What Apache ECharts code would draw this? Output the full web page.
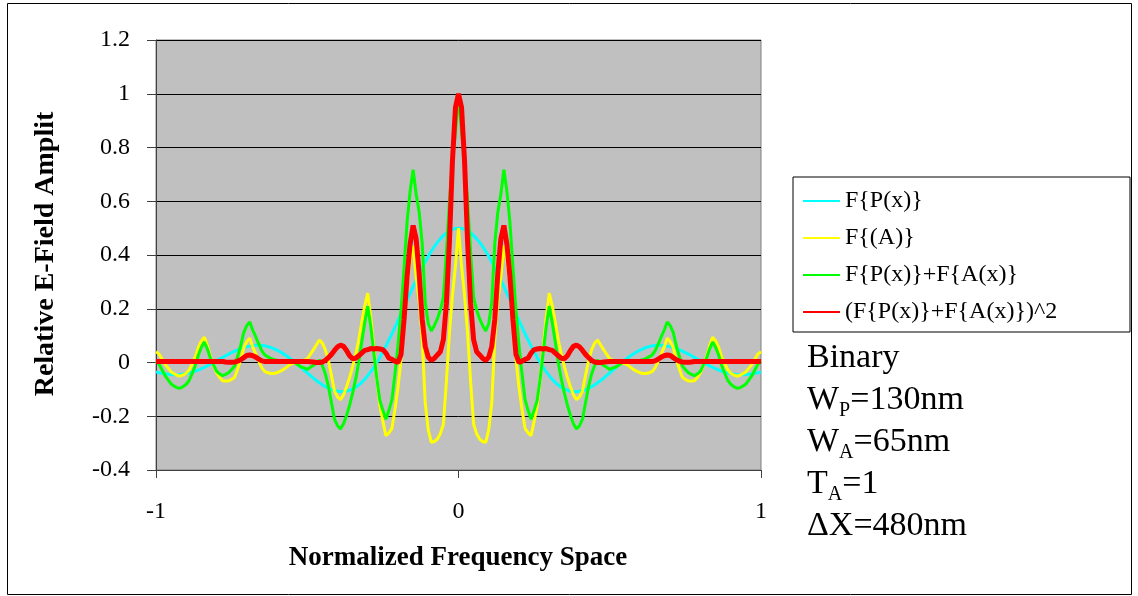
<!DOCTYPE html>
<html>
<head>
<meta charset="utf-8">
<script src="https://cdn.jsdelivr.net/npm/echarts@6/dist/echarts.min.js"></script>
<style>
html, body { margin: 0; padding: 0; background: #fff; }
#chart { width: 1138px; height: 596px; }
</style>
</head>
<body>
<div id="chart"></div>
<script>
// normalized frequency, -1 .. 1
var freq = [
  -1.00,-0.99,-0.98,-0.97,-0.96,-0.95,-0.94,-0.93,-0.92,-0.91,
  -0.90,-0.89,-0.88,-0.87,-0.86,-0.85,-0.84,-0.83,-0.82,-0.81,
  -0.80,-0.79,-0.78,-0.77,-0.76,-0.75,-0.74,-0.73,-0.72,-0.71,
  -0.70,-0.69,-0.68,-0.67,-0.66,-0.65,-0.64,-0.63,-0.62,-0.61,
  -0.60,-0.59,-0.58,-0.57,-0.56,-0.55,-0.54,-0.53,-0.52,-0.51,
  -0.50,-0.49,-0.48,-0.47,-0.46,-0.45,-0.44,-0.43,-0.42,-0.41,
  -0.40,-0.39,-0.38,-0.37,-0.36,-0.35,-0.34,-0.33,-0.32,-0.31,
  -0.30,-0.29,-0.28,-0.27,-0.26,-0.25,-0.24,-0.23,-0.22,-0.21,
  -0.20,-0.19,-0.18,-0.17,-0.16,-0.15,-0.14,-0.13,-0.12,-0.11,
  -0.10,-0.09,-0.08,-0.07,-0.06,-0.05,-0.04,-0.03,-0.02,-0.01,
  0.00,
  0.01,0.02,0.03,0.04,0.05,0.06,0.07,0.08,0.09,0.10,
  0.11,0.12,0.13,0.14,0.15,0.16,0.17,0.18,0.19,0.20,
  0.21,0.22,0.23,0.24,0.25,0.26,0.27,0.28,0.29,0.30,
  0.31,0.32,0.33,0.34,0.35,0.36,0.37,0.38,0.39,0.40,
  0.41,0.42,0.43,0.44,0.45,0.46,0.47,0.48,0.49,0.50,
  0.51,0.52,0.53,0.54,0.55,0.56,0.57,0.58,0.59,0.60,
  0.61,0.62,0.63,0.64,0.65,0.66,0.67,0.68,0.69,0.70,
  0.71,0.72,0.73,0.74,0.75,0.76,0.77,0.78,0.79,0.80,
  0.81,0.82,0.83,0.84,0.85,0.86,0.87,0.88,0.89,0.90,
  0.91,0.92,0.93,0.94,0.95,0.96,0.97,0.98,0.99,1.00
];

// F{P(x)}
var fP = [
  -0.035,-0.038,-0.040,-0.042,-0.044,-0.045,-0.046,-0.046,-0.045,-0.043,
  -0.041,-0.039,-0.036,-0.032,-0.028,-0.023,-0.018,-0.012,-0.006,0.000,
  0.006,0.013,0.019,0.025,0.031,0.037,0.042,0.047,0.052,0.056,
  0.059,0.061,0.063,0.064,0.064,0.063,0.062,0.059,0.056,0.051,
  0.046,0.040,0.033,0.026,0.018,0.009,0.000,-0.009,-0.019,-0.029,
  -0.039,-0.048,-0.058,-0.067,-0.075,-0.083,-0.090,-0.096,-0.101,-0.105,
  -0.107,-0.109,-0.108,-0.107,-0.103,-0.099,-0.092,-0.084,-0.074,-0.062,
  -0.049,-0.034,-0.018,0.000,0.019,0.040,0.061,0.084,0.107,0.132,
  0.156,0.181,0.207,0.232,0.257,0.282,0.306,0.330,0.353,0.374,
  0.395,0.414,0.431,0.447,0.460,0.472,0.482,0.490,0.496,0.499,
  0.500,
  0.499,0.496,0.490,0.482,0.472,0.460,0.447,0.431,0.414,0.395,
  0.374,0.353,0.330,0.306,0.282,0.257,0.232,0.207,0.181,0.156,
  0.132,0.107,0.084,0.061,0.040,0.019,0.000,-0.018,-0.034,-0.049,
  -0.062,-0.074,-0.084,-0.092,-0.099,-0.103,-0.107,-0.108,-0.109,-0.107,
  -0.105,-0.101,-0.096,-0.090,-0.083,-0.075,-0.067,-0.058,-0.048,-0.039,
  -0.029,-0.019,-0.009,0.000,0.009,0.018,0.026,0.033,0.040,0.046,
  0.051,0.056,0.059,0.062,0.063,0.064,0.064,0.063,0.061,0.059,
  0.056,0.052,0.047,0.042,0.037,0.031,0.025,0.019,0.013,0.006,
  0.000,-0.006,-0.012,-0.018,-0.023,-0.028,-0.032,-0.036,-0.039,-0.041,
  -0.043,-0.045,-0.046,-0.046,-0.045,-0.044,-0.042,-0.040,-0.038,-0.035
];

// F{(A)}
var fA = [
  0.04,0.032,0.013,-0.007,-0.021,-0.035,-0.042,-0.048,-0.051,-0.046,
  -0.04,-0.027,-0.004,0.021,0.056,0.08,0.094,0.062,0.022,-0.008,
  -0.038,-0.055,-0.068,-0.069,-0.069,-0.063,-0.055,-0.024,0.011,0.055,
  0.078,0.09,0.057,0.031,0.004,-0.02,-0.034,-0.038,-0.041,-0.041,
  -0.038,-0.033,-0.027,-0.019,-0.01,-0.004,-0.002,0.0,0.002,0.009,
  0.013,0.03,0.047,0.065,0.084,0.072,0.047,0.007,-0.048,-0.106,
  -0.128,-0.138,-0.12,-0.09,-0.056,-0.015,0.03,0.083,0.149,0.21,
  0.258,0.169,0.056,-0.06,-0.16,-0.218,-0.272,-0.262,-0.245,-0.174,
  -0.092,0.012,0.145,0.29,0.38,0.435,0.32,0.23,0.09,-0.15,
  -0.25,-0.297,-0.294,-0.285,-0.265,-0.23,-0.07,0.11,0.25,0.36,
  0.50,
  0.36,0.25,0.11,-0.07,-0.23,-0.265,-0.285,-0.294,-0.297,-0.25,
  -0.15,0.09,0.23,0.32,0.435,0.38,0.29,0.145,0.012,-0.092,
  -0.174,-0.245,-0.262,-0.272,-0.218,-0.16,-0.06,0.056,0.169,0.258,
  0.21,0.149,0.083,0.03,-0.015,-0.056,-0.09,-0.12,-0.138,-0.128,
  -0.106,-0.048,0.007,0.047,0.072,0.084,0.065,0.047,0.03,0.013,
  0.009,0.002,0.0,-0.002,-0.004,-0.01,-0.019,-0.027,-0.033,-0.038,
  -0.041,-0.041,-0.038,-0.034,-0.02,0.004,0.031,0.057,0.09,0.078,
  0.055,0.011,-0.024,-0.055,-0.063,-0.069,-0.069,-0.068,-0.055,-0.038,
  -0.008,0.022,0.062,0.094,0.08,0.056,0.021,-0.004,-0.027,-0.04,
  -0.046,-0.051,-0.048,-0.042,-0.035,-0.021,-0.007,0.013,0.032,0.04
];

// F{P(x)}+F{A(x)}
var fSum = [
  0.005,-0.006,-0.027,-0.049,-0.065,-0.080,-0.088,-0.094,-0.096,-0.089,
  -0.081,-0.066,-0.040,-0.011,0.028,0.057,0.076,0.050,0.016,-0.008,
  -0.032,-0.042,-0.049,-0.044,-0.038,-0.026,-0.013,0.023,0.063,0.111,
  0.137,0.151,0.120,0.095,0.068,0.043,0.028,0.021,0.015,0.010,
  0.008,0.007,0.006,0.007,0.008,0.005,-0.002,-0.009,-0.017,-0.020,
  -0.026,-0.018,-0.011,-0.002,0.009,-0.011,-0.043,-0.089,-0.149,-0.211,
  -0.235,-0.247,-0.228,-0.197,-0.159,-0.114,-0.062,-0.001,0.075,0.148,
  0.209,0.135,0.038,-0.060,-0.141,-0.178,-0.211,-0.178,-0.138,-0.042,
  0.064,0.193,0.352,0.522,0.637,0.717,0.626,0.560,0.443,0.224,
  0.145,0.117,0.137,0.162,0.195,0.242,0.412,0.600,0.746,0.859,
  1.000,
  0.859,0.746,0.600,0.412,0.242,0.195,0.162,0.137,0.117,0.145,
  0.224,0.443,0.560,0.626,0.717,0.637,0.522,0.352,0.193,0.064,
  -0.042,-0.138,-0.178,-0.211,-0.178,-0.141,-0.060,0.038,0.135,0.209,
  0.148,0.075,-0.001,-0.062,-0.114,-0.159,-0.197,-0.228,-0.247,-0.235,
  -0.211,-0.149,-0.089,-0.043,-0.011,0.009,-0.002,-0.011,-0.018,-0.026,
  -0.020,-0.017,-0.009,-0.002,0.005,0.008,0.007,0.006,0.007,0.008,
  0.010,0.015,0.021,0.028,0.043,0.068,0.095,0.120,0.151,0.137,
  0.111,0.063,0.023,-0.013,-0.026,-0.038,-0.044,-0.049,-0.042,-0.032,
  -0.008,0.016,0.050,0.076,0.057,0.028,-0.011,-0.040,-0.066,-0.081,
  -0.089,-0.096,-0.094,-0.088,-0.080,-0.065,-0.049,-0.027,-0.006,0.005
];

// (F{P(x)}+F{A(x)})^2
var fSq = [
  0.004,0.004,0.004,0.004,0.004,0.004,0.004,0.004,0.004,0.004,
  0.004,0.004,0.004,0.004,0.004,0.004,0.004,0.004,0.004,0.004,
  0.004,0.004,0.004,0.002,0.001,0.001,0.002,0.005,0.01,0.018,
  0.026,0.028,0.025,0.02,0.012,0.006,0.004,0.004,0.004,0.004,
  0.004,0.004,0.004,0.004,0.004,0.004,0.004,0.004,0.004,0.004,
  0.004,0.003,0.002,0.0,0.0,0.002,0.008,0.018,0.03,0.045,
  0.058,0.065,0.06,0.045,0.025,0.014,0.016,0.025,0.035,0.045,
  0.048,0.052,0.05,0.052,0.05,0.048,0.035,0.016,0.012,0.005,
  0.0,0.03,0.16,0.32,0.44,0.51,0.46,0.33,0.16,0.06,
  0.02,0.008,0.015,0.028,0.04,0.085,0.22,0.45,0.75,0.95,
  1.0,
  0.95,0.75,0.45,0.22,0.085,0.04,0.028,0.015,0.008,0.02,
  0.06,0.16,0.33,0.46,0.51,0.44,0.32,0.16,0.03,0.0,
  0.005,0.012,0.016,0.035,0.048,0.05,0.052,0.05,0.052,0.048,
  0.045,0.035,0.025,0.016,0.014,0.025,0.045,0.06,0.065,0.058,
  0.045,0.03,0.018,0.008,0.002,0.0,0.0,0.002,0.003,0.004,
  0.004,0.004,0.004,0.004,0.004,0.004,0.004,0.004,0.004,0.004,
  0.004,0.004,0.004,0.004,0.006,0.012,0.02,0.025,0.028,0.026,
  0.018,0.01,0.005,0.002,0.001,0.001,0.002,0.004,0.004,0.004,
  0.004,0.004,0.004,0.004,0.004,0.004,0.004,0.004,0.004,0.004,
  0.004,0.004,0.004,0.004,0.004,0.004,0.004,0.004,0.004,0.004
];

var names = ['F{P(x)}', 'F{(A)}', 'F{P(x)}+F{A(x)}', '(F{P(x)}+F{A(x)})^2'];
var colors = ['#00ffff', '#ffff00', '#00ff00', '#ff0000'];
var widths = [3, 3, 3, 5];
var values = [fP, fA, fSum, fSq];

var serif = 'Liberation Serif';

function pairs(ys) {
  return freq.map(function (x, i) { return [x, ys[i]]; });
}

var chart = echarts.init(document.getElementById('chart'));

var option = {
  animation: false,
  backgroundColor: '#fff',
  grid: {
    left: 156, right: 377, top: 40, bottom: 126,
    outerBoundsMode: 'none',
    show: true,
    backgroundColor: '#c0c0c0',
    borderColor: '#808080',
    borderWidth: 1
  },
  xAxis: {
    type: 'value',
    min: -1, max: 1, interval: 1,
    axisLine: { show: true, onZero: false, lineStyle: { color: '#404040', width: 1 } },
    axisTick: { show: true, inside: false, length: 8, lineStyle: { color: '#404040' } },
    axisLabel: { margin: 30, fontFamily: serif, fontSize: 24, color: '#000' },
    splitLine: { show: false }
  },
  yAxis: {
    type: 'value',
    min: -0.4, max: 1.2, interval: 0.2,
    axisLine: { show: true, onZero: false, lineStyle: { color: '#404040', width: 1 } },
    axisTick: { show: true, inside: false, length: 9, lineStyle: { color: '#404040' } },
    axisLabel: { margin: 26, fontFamily: serif, fontSize: 24, color: '#000' },
    splitLine: { show: true, lineStyle: { color: '#000', width: 1 } }
  },
  legend: {
    orient: 'vertical',
    left: 793, top: 177,
    padding: [9, 6, 5, 9],
    itemGap: 7,
    itemWidth: 37,
    itemHeight: 10,
    itemStyle: { opacity: 0 },
    backgroundColor: '#fff',
    borderColor: '#000',
    borderWidth: 1,
    borderRadius: 0,
    textStyle: { fontFamily: serif, fontSize: 24, color: '#000', lineHeight: 30, width: 279 },
    data: names
  },
  graphic: [
    {
      type: 'rect', silent: true,
      shape: { x: 7.5, y: 3.5, width: 1124, height: 591 },
      style: { fill: 'none', stroke: '#000', lineWidth: 1 }
    },
    {
      type: 'text', silent: true,
      x: 46, y: 254, rotation: Math.PI / 2,
      style: {
        text: 'Relative E-Field Amplit',
        fontFamily: serif, fontSize: 28, fontWeight: 'bold', fill: '#000',
        align: 'center', verticalAlign: 'middle'
      }
    },
    {
      type: 'text', silent: true,
      x: 458, y: 558,
      style: {
        text: 'Normalized Frequency Space',
        fontFamily: serif, fontSize: 27, fontWeight: 'bold', fill: '#000',
        align: 'center', verticalAlign: 'middle'
      }
    },
    {
      type: 'text', silent: true,
      x: 807, y: 337,
      style: {
        text: 'Binary\nW{s|P}=130nm\nW{s|A}=65nm\nT{s|A}=1\nΔX=480nm',
        fontFamily: serif, fontSize: 34, lineHeight: 42, fill: '#000',
        align: 'left', verticalAlign: 'top',
        rich: {
          s: { fontFamily: serif, fontSize: 20, lineHeight: 20, verticalAlign: 'bottom', fill: '#000' }
        }
      }
    }
  ],
  series: names.map(function (n, i) {
    return {
      name: n,
      type: 'line',
      data: pairs(values[i]),
      showSymbol: false,
      symbol: 'none',
      silent: true,
      color: colors[i],
      lineStyle: { color: colors[i], width: widths[i] },
      z: 2 + i
    };
  })
};

chart.setOption(option);
</script>
</body>
</html>
